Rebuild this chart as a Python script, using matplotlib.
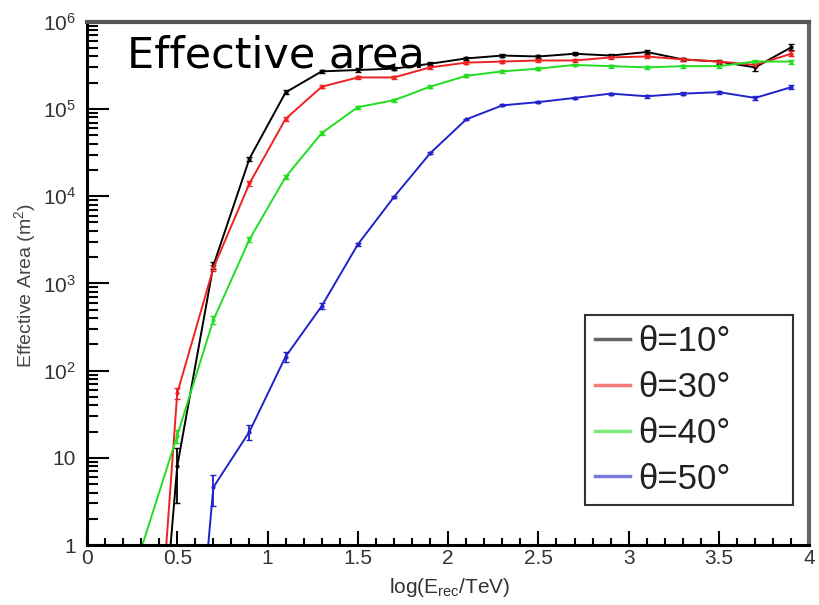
import matplotlib
matplotlib.use('Agg')
import matplotlib.pyplot as plt
import matplotlib.ticker as mticker
import numpy as np

# log10(E_rec / TeV) bin centres
log_e = [0.3, 0.5, 0.7, 0.9, 1.1, 1.3, 1.5, 1.7, 1.9, 2.1, 2.3, 2.5, 2.7, 2.9, 3.1, 3.3, 3.5, 3.7, 3.9]

# effective area (m^2), values below 1 are off the bottom of the plot
area_10 = [1e-4, 8, 1600, 2.7e4, 1.55e5, 2.7e5, 2.8e5, 2.9e5, 3.3e5, 3.8e5, 4.1e5, 4.0e5, 4.3e5, 4.1e5, 4.5e5, 3.7e5, 3.5e5, 3.0e5, 5.1e5]
area_30 = [1e-4, 55, 1500, 1.4e4, 7.7e4, 1.8e5, 2.3e5, 2.3e5, 3.0e5, 3.4e5, 3.5e5, 3.6e5, 3.6e5, 3.9e5, 4.0e5, 3.7e5, 3.5e5, 3.2e5, 4.3e5]
area_40 = [0.9, 18, 380, 3200, 1.66e4, 5.3e4, 1.05e5, 1.26e5, 1.8e5, 2.4e5, 2.7e5, 2.9e5, 3.2e5, 3.1e5, 3.0e5, 3.1e5, 3.1e5, 3.5e5, 3.5e5]
area_50 = [1e-4, 1e-4, 4.6, 20, 145, 550, 2800, 9800, 3.1e4, 7.6e4, 1.1e5, 1.2e5, 1.34e5, 1.5e5, 1.4e5, 1.5e5, 1.56e5, 1.34e5, 1.78e5]

err_10 = [0, 5, 150, 1500, 8000, 1.2e4, 1.2e4, 1.2e4, 1.3e4, 1.4e4, 1.5e4, 1.5e4, 1.7e4, 1.7e4, 2.0e4, 1.8e4, 1.8e4, 2.5e4, 4.0e4]
err_30 = [0, 8, 120, 900, 4000, 8000, 1.0e4, 1.0e4, 1.2e4, 1.3e4, 1.4e4, 1.4e4, 1.5e4, 1.6e4, 1.7e4, 1.6e4, 1.6e4, 2.0e4, 3.0e4]
err_40 = [0, 3, 40, 250, 1000, 2500, 4000, 5000, 7000, 9000, 1.0e4, 1.1e4, 1.2e4, 1.2e4, 1.2e4, 1.3e4, 1.3e4, 1.5e4, 1.8e4]
err_50 = [0, 0, 1.8, 4, 20, 40, 120, 300, 800, 1500, 3000, 3500, 4000, 4500, 5000, 5000, 6000, 8000, 9000]

labels = ['θ=10°', 'θ=30°', 'θ=40°', 'θ=50°']
colors = ['#000000', '#ee2222', '#22dd22', '#2222cc']

x_ticks = [0, 0.5, 1, 1.5, 2, 2.5, 3, 3.5, 4]
x_tick_labels = ['0', '0.5', '1', '1.5', '2', '2.5', '3', '3.5', '4']
y_ticks = [1, 10, 1e2, 1e3, 1e4, 1e5, 1e6]
y_tick_labels = ['1', '10', r'$10^{2}$', r'$10^{3}$', r'$10^{4}$', r'$10^{5}$', r'$10^{6}$']


def make_plot():
    plt.rcParams['font.family'] = ['Liberation Sans', 'DejaVu Sans']
    plt.rcParams['mathtext.fontset'] = 'custom'
    plt.rcParams['mathtext.rm'] = 'Liberation Sans'
    plt.rcParams['mathtext.it'] = 'Liberation Sans'

    fig = plt.figure(figsize=(8.2, 6.05), dpi=100)
    ax = fig.add_axes([0.106, 0.099, 0.881, 0.865])

    series = [area_10, area_30, area_40, area_50]
    errs = [err_10, err_30, err_40, err_50]
    handles = []
    for y, e, c, lab in zip(series, errs, colors, labels):
        ax.errorbar(log_e, y, yerr=e, color=c, lw=1.4, elinewidth=1.3,
                    capsize=2, marker='.', ms=4)
        h, = ax.plot([], [], color=c, lw=2.5, alpha=0.6, label=lab)
        handles.append(h)

    ax.set_yscale('log')
    ax.set_xlim(0, 4)
    ax.set_ylim(1, 1e6)

    ax.set_xticks(x_ticks)
    ax.set_xticklabels(x_tick_labels)
    ax.xaxis.set_minor_locator(mticker.MultipleLocator(0.1))
    ax.set_yticks(y_ticks)
    ax.set_yticklabels(y_tick_labels)
    minors = [m * 10 ** d for d in range(6) for m in range(2, 10)]
    ax.yaxis.set_minor_locator(mticker.FixedLocator(minors))
    ax.yaxis.set_minor_formatter(mticker.NullFormatter())

    ax.tick_params(axis='both', which='both', direction='in', colors='black',
                   labelcolor='#333333', width=1.5)
    ax.tick_params(axis='x', which='major', length=10, labelsize=15, pad=3)
    ax.tick_params(axis='x', which='minor', length=5)
    ax.tick_params(axis='y', which='major', length=16, labelsize=15, pad=8)
    ax.tick_params(axis='y', which='minor', length=8)

    for side in ['left', 'bottom']:
        ax.spines[side].set_linewidth(2.2)
        ax.spines[side].set_color('black')
    ax.spines['top'].set_linewidth(3)
    ax.spines['top'].set_color('#555555')
    ax.spines['right'].set_linewidth(3)
    ax.spines['right'].set_color('#666666')

    # box stretched wider than the text, as in the original
    leg = ax.legend(handles=handles, loc='lower left',
                    bbox_to_anchor=(0.69, 0.076, 0.288, 0.36), mode='expand',
                    fontsize=25, frameon=True, fancybox=False, borderpad=0.28,
                    labelspacing=0.37, handlelength=1.0, handletextpad=0.25,
                    borderaxespad=0)
    leg.get_frame().set_edgecolor('black')
    leg.get_frame().set_linewidth(1.5)
    for t in leg.get_texts():
        t.set_color('#222222')

    fig.text(0.03, 1 - 285 / 605, 'Effective Area (m$^2$)', rotation=90, fontsize=14,
             color='#444444', ha='center', va='center')
    fig.text(450 / 820, 0.02, 'log(E$_{\\rm rec}$/TeV)', fontsize=15, color='#333333',
             ha='center', va='baseline')
    fig.text(127 / 820, 1 - 68 / 605, 'Effective area', fontsize=31,
             family='DejaVu Sans', color='black', ha='left', va='baseline')

    fig.savefig('out.png', dpi=100, facecolor='white')


make_plot()
